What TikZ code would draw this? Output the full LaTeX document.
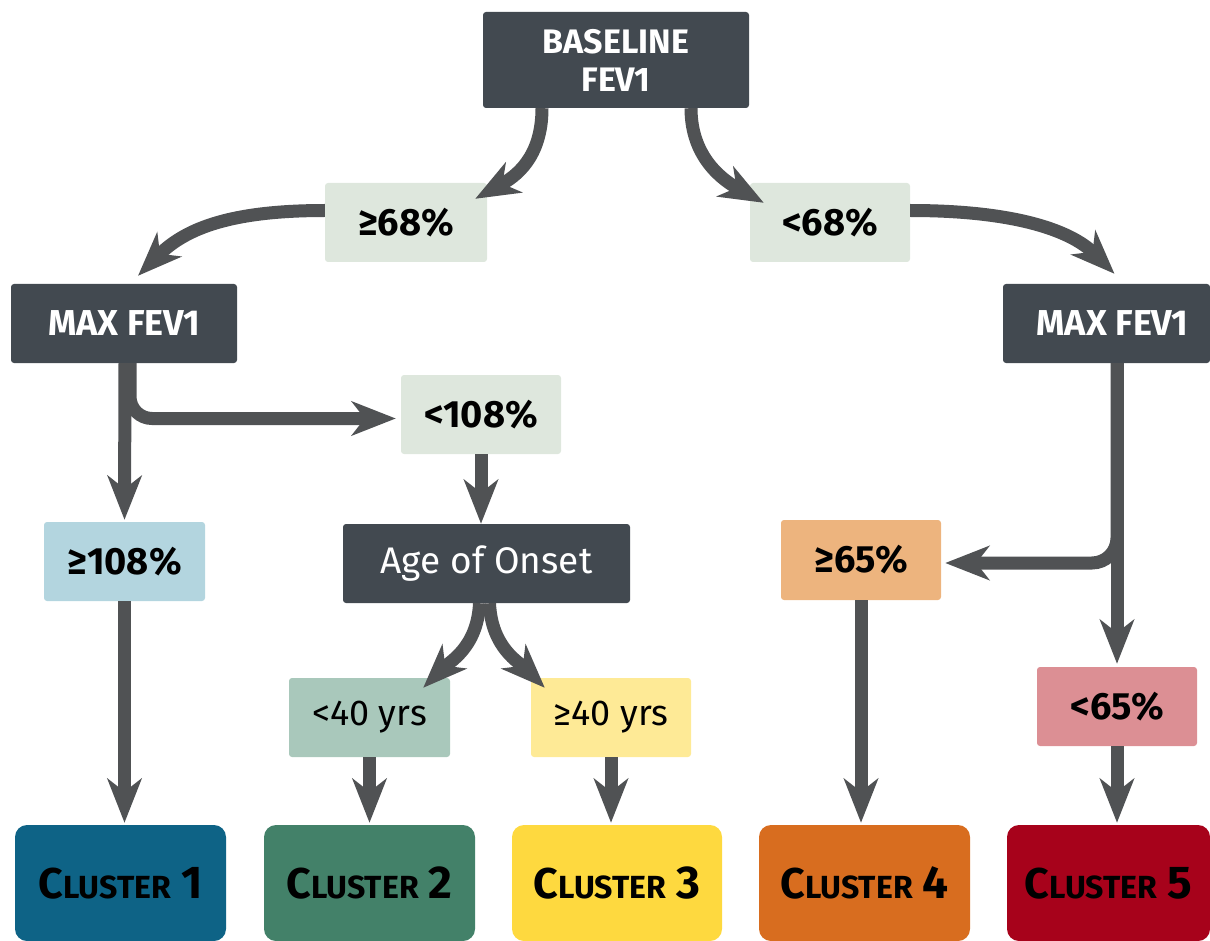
\documentclass[tikz,border=0pt]{standalone}
\usepackage{fontspec}
\setmainfont{Fira Sans}
\usetikzlibrary{arrows.meta,calc}
\definecolor{darkbox}{HTML}{424950}
\definecolor{arrowc}{HTML}{505254}
\definecolor{lgreen}{HTML}{DEE7DD}
\definecolor{lblue}{HTML}{B3D5DF}
\definecolor{lorange}{HTML}{EDB47E}
\definecolor{lpink}{HTML}{DC8F94}
\definecolor{lsage}{HTML}{A9C8BB}
\definecolor{lyellow}{HTML}{FEEA96}
\definecolor{cone}{HTML}{0E6386}
\definecolor{ctwo}{HTML}{438169}
\definecolor{cthree}{HTML}{FED93F}
\definecolor{cfour}{HTML}{D86D1F}
\definecolor{cfive}{HTML}{A7021B}
\newcommand\clusterlabel[1]{{\fontsize{43}{43}\selectfont C}{\fontsize{32}{32}\selectfont LUSTER}\hspace{10pt}{\fontsize{46}{46}\selectfont #1}}
\begin{document}
\begin{tikzpicture}[x=1pt,y=-1pt,
  headbox/.style={fill=darkbox, text=white, font=\bfseries\fontsize{34}{38}\selectfont,
    rounded corners=3pt, inner sep=0pt, align=center},
  condbox/.style={rounded corners=3pt, inner sep=0pt, minimum width=160pt, minimum height=79pt,
    text=black, font=\bfseries\fontsize{38}{38}\selectfont},
  yrbox/.style={rounded corners=3pt, inner sep=0pt, minimum width=161pt, minimum height=79pt,
    text=black, font=\fontsize{36}{36}\selectfont},
  clusterbox/.style={rounded corners=12pt, inner sep=0pt, minimum width=211pt, minimum height=116pt,
    text=black, font=\bfseries},
  arr/.style={draw=arrowc, line width=13pt, -{Stealth[length=44pt,width=34pt,inset=13pt]}}
]
\useasboundingbox (0,0) rectangle (1210,941);

% nodes
\node[headbox, minimum width=266pt, minimum height=96pt] (base) at (616,60) {BASELINE\\FEV1};
\node[condbox, fill=lgreen, minimum width=162pt] (ge68) at (406,222.5) {≥68\%};
\node[condbox, fill=lgreen] (lt68) at (830,222.5) {<68\%};
\node[headbox, minimum width=226pt, minimum height=79pt, font=\bfseries\fontsize{36}{36}\selectfont] (maxL) at (124,323.5) {MAX FEV1};
\node[headbox, minimum width=207pt, minimum height=79pt, font=\bfseries\fontsize{36}{36}\selectfont] (maxR) at (1106.5,323.5) {\hspace*{12pt}MAX FEV1};
\node[condbox, fill=lgreen] (lt108) at (481,414.5) {<108\%};
\node[condbox, fill=lblue, minimum width=161pt] (ge108) at (124.5,561.5) {≥108\%};
\node[headbox, minimum width=287pt, minimum height=79pt, font=\fontsize{37}{37}\selectfont] (age) at (486.5,563.5) {Age of Onset};
\node[condbox, fill=lorange, minimum height=80pt] (ge65) at (861,560) {≥65\%};
\node[yrbox, fill=lsage] (lt40) at (369.5,717.5) {<40 yrs};
\node[yrbox, fill=lyellow, minimum width=160pt] (ge40) at (611,717.5) {≥40 yrs};
\node[condbox, fill=lpink] (lt65) at (1117,706.5) {<65\%};

\node[clusterbox, fill=cone] (c1) at (120.5,883) {\clusterlabel{1}};
\node[clusterbox, fill=ctwo] (c2) at (369.5,883) {\clusterlabel{2}};
\node[clusterbox, fill=cthree, minimum width=210pt] (c3) at (617,883) {\clusterlabel{3}};
\node[clusterbox, fill=cfour] (c4) at (864.5,883) {\clusterlabel{4}};
\node[clusterbox, fill=cfive, minimum width=203pt] (c5) at (1108.5,883) {\clusterlabel{5}};

% connectors
\draw[arr] ($(base.south)+(-74,0)$) .. controls +(0,50) and +(40,-22) .. ($(ge68.north east)+(-12,16)$);
\draw[arr] ($(base.south)+(75,0)$) .. controls +(0,50) and +(-40,-22) .. ($(lt68.north west)+(14,20)$);
\draw[arr] ($(ge68.west)+(0,-12)$) .. controls +(-100,0) and +(45,-45) .. ($(maxL.north)+(14,-8)$);
\draw[arr] ($(lt68.east)+(0,-12)$) .. controls +(100,0) and +(-45,-45) .. ($(maxR.north)+(8,-10)$);
\draw[arr] ($(maxL.south)+(1,0)$) -- ($(ge108.north)+(0,-2)$);
\draw[arr, rounded corners=22pt] ($(maxL.south)+(6,0)$) |- ($(lt108.west)+(-5,4)$);
\draw[arr] (lt108.south) -- (lt108.south |- age.north);
\draw[arr] (ge108.south) -- ($(ge108.south |- c1.north)+(0,-2)$);
\draw[arr] ($(age.south)+(-7,0)$) .. controls +(-2,45) and +(25,-25) .. ($(lt40.north east)+(-27,10)$);
\draw[arr] ($(age.south)+(3,0)$) .. controls +(2,45) and +(-25,-25) .. ($(ge40.north west)+(14,10)$);
\draw[arr] (lt40.south) -- ($(lt40.south |- c2.north)+(0,-2)$);
\draw[arr] (ge40.south) -- ($(ge40.south |- c3.north)+(0,-2)$);
\draw[arr] (ge65.south) -- ($(ge65.south |- c4.north)+(0,-2)$);
\draw[arr] (lt65.north |- maxR.south) -- ($(lt65.north)+(0,-3)$);
\draw[arr, rounded corners=25pt] (lt65.north |- maxR.south) |- ($(ge65.east)+(4,3)$);
\draw[arr] (lt65.south) -- ($(lt65.south |- c5.north)+(0,-2)$);
\end{tikzpicture}
\end{document}
